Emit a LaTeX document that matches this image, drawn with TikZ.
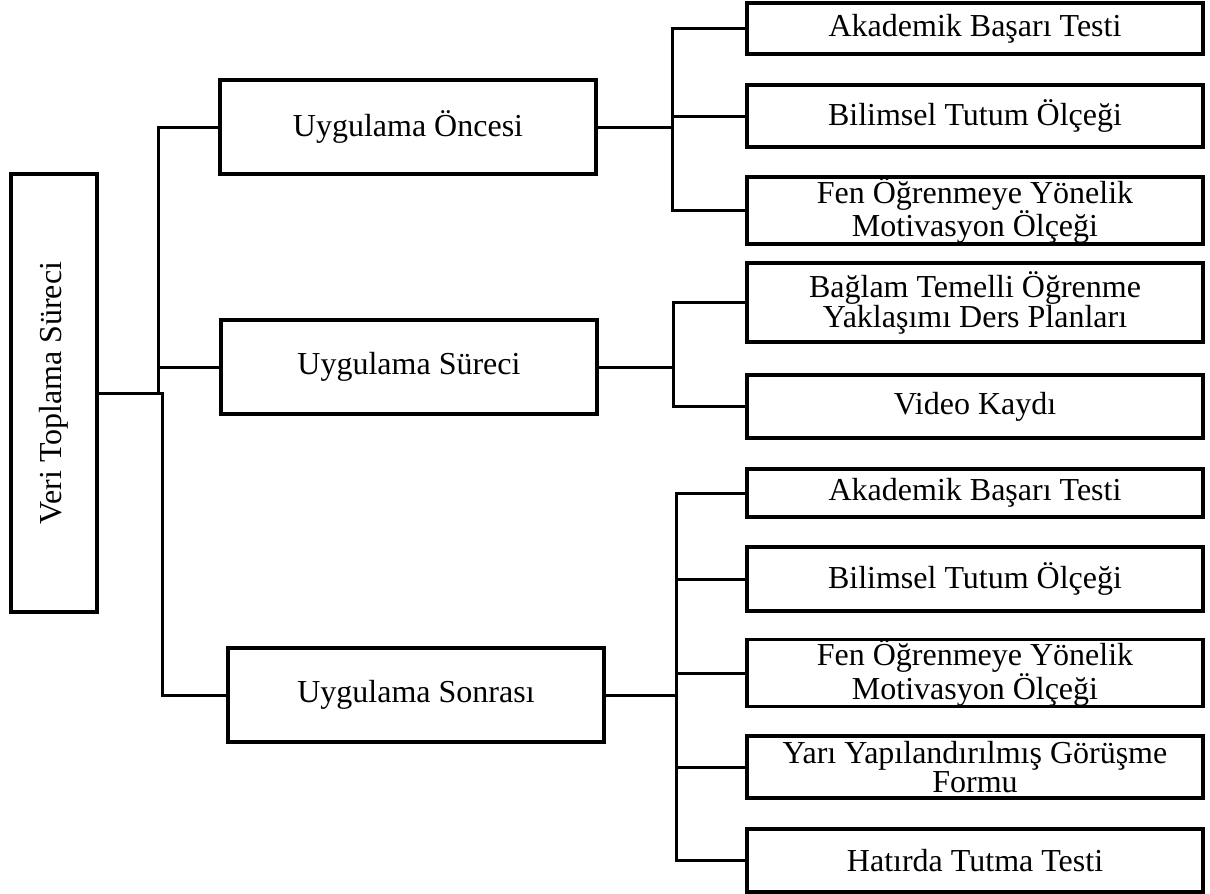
\documentclass[tikz,border=0pt]{standalone}
\usepackage{fontspec}
\setmainfont{Liberation Serif}
\begin{document}
\begin{tikzpicture}[x=1pt,y=-1pt,
  box/.style={draw, line width=3.6pt, rectangle, inner sep=0pt, align=center,
    font=\fontsize{32}{29}\selectfont},
  l1/.style={box, minimum width=376pt, minimum height=94pt},
  leaf/.style={box, minimum width=456pt},
  conn/.style={line width=3pt}]
\useasboundingbox (0,0) rectangle (1210,894);
% root
\node[box, minimum width=86pt, minimum height=438pt] (root) at (54,393)
  {\rotatebox{90}{Veri Toplama Süreci}};
% level 1
\node[l1] (oncesi) at (408,127) {Uygulama Öncesi};
\node[l1] (sureci) at (409,367) {Uygulama Süreci};
\node[l1] (sonrasi) at (416,695) {Uygulama Sonrası};
% leaves
\node[leaf, minimum height=51pt] (a1) at (975,28.5) {Akademik Başarı Testi};
\node[leaf, minimum height=62pt] (a2) at (975,116) {Bilimsel Tutum Ölçeği};
\node[leaf, minimum height=63pt] (a3) at (975,210.5) {Fen Öğrenmeye Yönelik\\Motivasyon Ölçeği};
\node[leaf, minimum height=79pt] (b1) at (975,302.5) {Bağlam Temelli Öğrenme\\Yaklaşımı Ders Planları};
\node[leaf, minimum height=63pt] (b2) at (975,406.5) {Video Kaydı};
\node[leaf, minimum height=48pt] (c1) at (975,493) {Akademik Başarı Testi};
\node[leaf, minimum height=64pt] (c2) at (975,579) {Bilimsel Tutum Ölçeği};
\node[leaf, minimum height=62pt] (c3) at (975,673) {Fen Öğrenmeye Yönelik\\Motivasyon Ölçeği};
\node[leaf, minimum height=62pt] (c4) at (975,767) {Yarı Yapılandırılmış Görüşme\\Formu};
\node[leaf, minimum height=63pt] (c5) at (975,860.5) {Hatırda Tutma Testi};
% trunk coordinates
\coordinate (tu) at (158,0);
\coordinate (tl) at (162,0);
\coordinate (va) at (672,0);
\coordinate (vb) at (673,0);
\coordinate (vc) at (676,0);
% root connectors
\draw[conn] (root.east) -- (root.east -| tl) -- (sonrasi.west -| tl) -- (sonrasi.west);
\draw[conn] (root.east -| tu) -- (oncesi.west -| tu) -- (oncesi.west);
\draw[conn] (sureci.west -| tu) -- (sureci.west);
% group a
\draw[conn] (oncesi.east) -- (oncesi.east -| va);
\draw[conn] (a1.west) -- (a1.west -| va) -- (a3.west -| va) -- (a3.west);
\draw[conn] (a2.west -| va) -- (a2.west);
% group b
\draw[conn] (sureci.east) -- (sureci.east -| vb);
\draw[conn] (b1.west) -- (b1.west -| vb) -- (b2.west -| vb) -- (b2.west);
% group c
\draw[conn] (sonrasi.east) -- (sonrasi.east -| vc);
\draw[conn] (c1.west) -- (c1.west -| vc) -- (c5.west -| vc) -- (c5.west);
\draw[conn] (c2.west -| vc) -- (c2.west);
\draw[conn] (c3.west -| vc) -- (c3.west);
\draw[conn] (c4.west -| vc) -- (c4.west);
\end{tikzpicture}
\end{document}
